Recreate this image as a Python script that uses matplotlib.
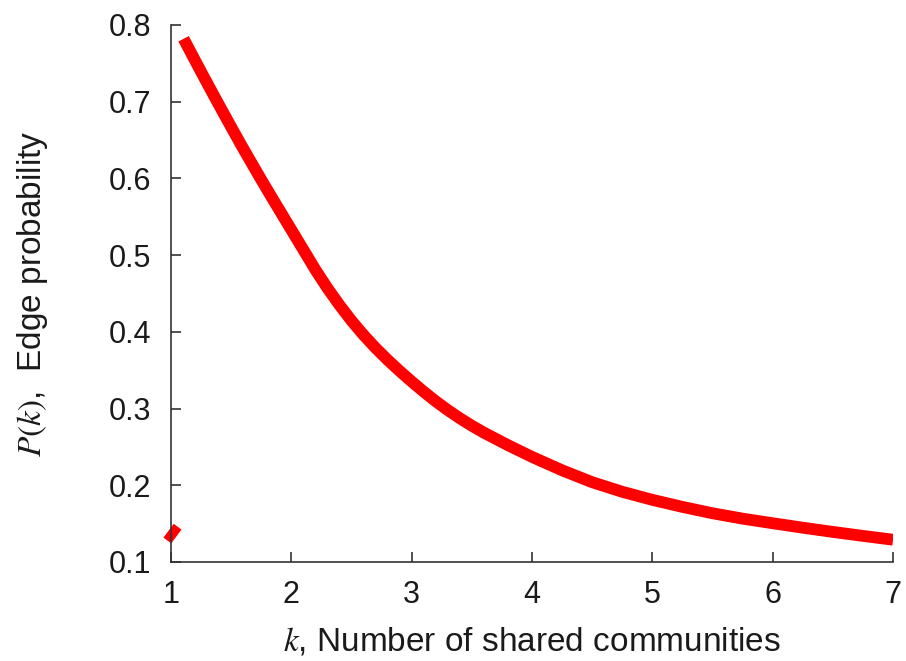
import matplotlib
matplotlib.use("Agg")
from matplotlib import pyplot as plt

plt.rcParams["font.family"] = ["Liberation Sans", "DejaVu Sans"]
plt.rcParams["mathtext.fontset"] = "stix"

# edge probability curve
k_values = [1.105, 1.25, 1.36, 1.5, 1.6, 1.74, 1.85, 2.0, 2.1, 2.2, 2.3,
            2.4, 2.5, 2.6, 2.7, 2.8, 2.9, 3.0, 3.1, 3.2, 3.3, 3.4, 3.5,
            3.6, 3.8, 4.0, 4.25, 4.5, 4.75, 5.0, 5.25, 5.5, 5.75, 6.0,
            6.25, 6.5, 6.75, 7.0]
p_values = [0.782, 0.739, 0.707, 0.667, 0.639, 0.601, 0.572, 0.533, 0.507,
            0.481, 0.457, 0.435, 0.4145, 0.396, 0.379, 0.3635, 0.349,
            0.3352, 0.322, 0.3095, 0.298, 0.2874, 0.2776, 0.2686, 0.2523,
            0.237, 0.2195, 0.204, 0.1915, 0.181, 0.1718, 0.1635, 0.1565,
            0.1505, 0.1447, 0.1392, 0.134, 0.129]

# little red stub near the origin
stub_k = [0.97, 1.055]
stub_p = [0.128, 0.146]

x_ticks = [1, 2, 3, 4, 5, 6, 7]
y_ticks = [0.1, 0.2, 0.3, 0.4, 0.5, 0.6, 0.7, 0.8]

fig = plt.figure(figsize=(9.06, 6.61), dpi=100)
ax = fig.add_axes([0.1887, 0.1498, 0.797, 0.8124])

ax.plot(k_values, p_values, color="red", linewidth=8.5,
        solid_capstyle="butt", solid_joinstyle="round")
ax.plot(stub_k, stub_p, color="red", linewidth=7, solid_capstyle="butt",
        clip_on=False)

ax.set_xlim(1, 7)
ax.set_ylim(0.1, 0.8)
ax.set_xticks(x_ticks)
ax.set_yticks(y_ticks)
ax.set_xticklabels([str(x) for x in x_ticks])
ax.set_yticklabels(["%.1f" % y for y in y_ticks])

for side in ["top", "right"]:
    ax.spines[side].set_visible(False)
for side in ["left", "bottom"]:
    ax.spines[side].set_color("#333333")
    ax.spines[side].set_linewidth(1.2)

ax.tick_params(direction="in", length=7, width=1.2, color="#333333",
               labelsize=22, labelcolor="#1a1a1a")
ax.tick_params(axis="x", pad=13)
ax.tick_params(axis="y", pad=14)

ax.set_xlabel("$k$, Number of shared communities", fontsize=24,
              color="#1a1a1a")
ax.set_ylabel("$P(k)$,  Edge probability", fontsize=24,
              color="#1a1a1a")
ax.xaxis.set_label_coords(0.5, -0.118)
ax.yaxis.set_label_coords(-0.168, 0.5)

fig.savefig("out.png", dpi=100)
